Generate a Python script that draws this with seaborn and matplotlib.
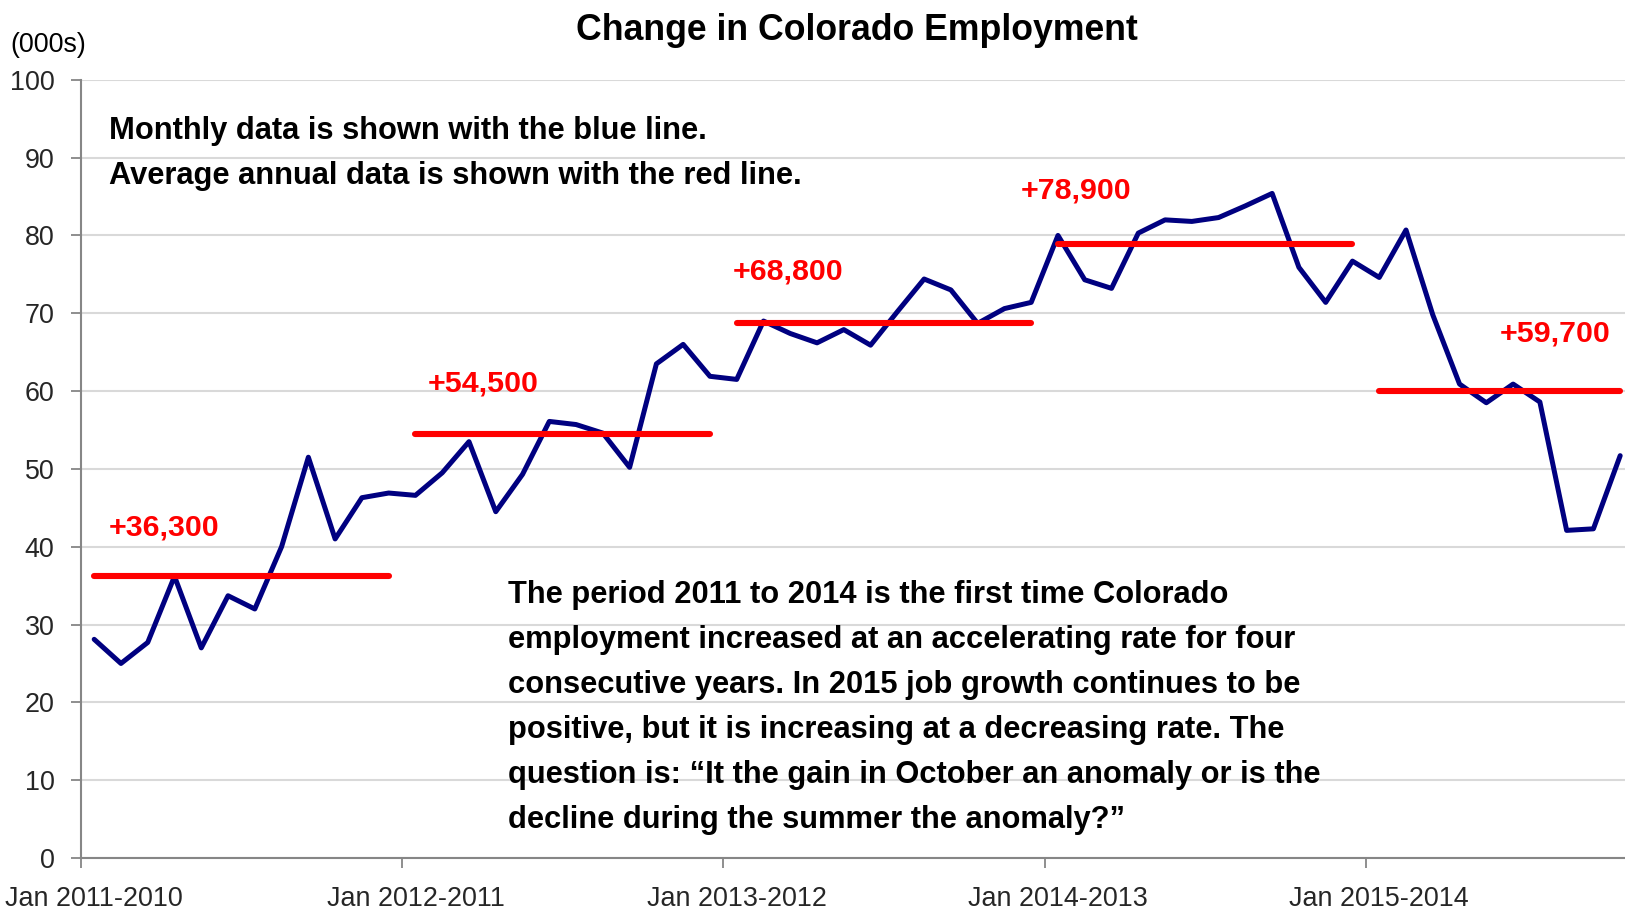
import numpy as np
import pandas as pd
import matplotlib
matplotlib.use("Agg")
import matplotlib.pyplot as plt
import seaborn as sns
from matplotlib import font_manager

# ---------------- data ----------------
year_labels = ["Jan 2011-2010", "Jan 2012-2011", "Jan 2013-2012", "Jan 2014-2013", "Jan 2015-2014"]
monthly_change = [
    28.1, 25.0, 27.7, 36.2, 27.0, 33.7, 32.0, 40.0, 51.5, 41.0, 46.3, 46.9,   # 2011
    46.6, 49.5, 53.5, 44.5, 49.3, 56.1, 55.7, 54.6, 50.2, 63.5, 66.0, 61.9,   # 2012
    61.5, 69.0, 67.4, 66.2, 67.9, 65.9, 70.2, 74.4, 73.0, 68.7, 70.6, 71.4,   # 2013
    80.0, 74.3, 73.2, 80.3, 82.0, 81.8, 82.3, 83.8, 85.4, 75.9, 71.4, 76.7,   # 2014
    74.6, 80.7, 69.8, 60.9, 58.5, 60.9, 58.6, 42.1, 42.3, 51.7,               # 2015 (Jan-Oct)
]
annual_avg = [36.3, 54.5, 68.8, 78.9, 60.0]
annual_labels = ["+36,300", "+54,500", "+68,800", "+78,900", "+59,700"]
annual_start = [0, 12, 24, 36, 48]
annual_end = [11, 23, 35, 47, 57]

note_top = ["Monthly data is shown with the blue line.",
            "Average annual data is shown with the red line."]
note_bottom = ["The period 2011 to 2014 is the first time Colorado",
               "employment increased at an accelerating rate for four",
               "consecutive years. In 2015 job growth continues to be",
               "positive, but it is increasing at a decreasing rate. The",
               "question is: \u201cIt the gain in October an anomaly or is the",
               "decline during the summer the anomaly?\u201d"]

df = pd.DataFrame({"month": np.arange(len(monthly_change)), "change": monthly_change})

# ---------------- style ----------------
sns.set_theme(style="white")
names = {f.name for f in font_manager.fontManager.ttflist}
if "Liberation Sans Narrow" in names:
    FAM = ["Liberation Sans Narrow", "DejaVu Sans"]
    S = 1.0
else:
    FAM = ["Liberation Sans", "DejaVu Sans"]
    S = 0.84
plt.rcParams["font.family"] = FAM

W, H = 1625, 913
fig = plt.figure(figsize=(W / 100, H / 100), dpi=100)
left_px, bottom_px, top_px = 80.8, 858.0, 79.8
ax = fig.add_axes([left_px / W, 1 - bottom_px / H, 1 - left_px / W, (bottom_px - top_px) / H])

sns.lineplot(data=df, x="month", y="change", ax=ax, color="#000080", linewidth=3.6, zorder=3)

for v, s, e in zip(annual_avg, annual_start, annual_end):
    ax.hlines(v, s, e, color="#FF0000", linewidth=4.4, zorder=4, capstyle="round")

label_pos = [(0.55, 42.5), (12.45, 61.0), (23.85, 75.4), (34.6, 85.8), (52.5, 67.4)]
for (lx, ly), lab in zip(label_pos, annual_labels):
    ax.text(lx, ly, lab, color="#FF0000", fontsize=26 * S, fontweight="bold",
            ha="left", va="center", zorder=5)

ax.set_xlim(-0.5, 57.18)
ax.set_ylim(0, 100)
ax.set_yticks(range(0, 101, 10))
# labels centred on the January category, tick marks between categories
ax.set_xticks([12 * i for i in range(len(year_labels))])
ax.set_xticklabels(year_labels)
ax.set_xticks([-0.5 + 12 * i for i in range(len(year_labels))], minor=True)
ax.set_xlabel("")
ax.set_ylabel("")
ax.yaxis.grid(True, color="#D9D9D9", linewidth=1.5)
ax.xaxis.grid(False, which="both")
ax.set_axisbelow(True)
for sp in ["top", "right"]:
    ax.spines[sp].set_visible(False)
for sp in ["left", "bottom"]:
    ax.spines[sp].set_color("#868686")
    ax.spines[sp].set_linewidth(1.5)
ax.tick_params(axis="y", direction="out", length=7, width=1.3, color="#868686",
               labelsize=23 * S, pad=12, left=True)
ax.tick_params(axis="x", which="major", direction="out", length=0,
               labelsize=23 * S, pad=20, bottom=True)
ax.tick_params(axis="x", which="minor", direction="out", length=7, width=1.3, color="#868686",
               bottom=True, labelbottom=False)

# ---------------- texts ----------------
fig.text(857 / W, 1 - 40 / H, "Change in Colorado Employment", ha="center", va="baseline",
         fontsize=30.5 * S, fontweight="bold", color="black")
fig.text(10.5 / W, 1 - 52 / H, "(000s)", ha="left", va="baseline", fontsize=23 * S, color="black")

for i, line in enumerate(note_top):
    fig.text(108.8 / W, 1 - (139 + i * 44.9) / H, line, ha="left", va="baseline",
             fontsize=26.5 * S, fontweight="bold", color="black")
for i, line in enumerate(note_bottom):
    fig.text(508 / W, 1 - (603.5 + i * 44.9) / H, line, ha="left", va="baseline",
             fontsize=26.5 * S, fontweight="bold", color="black")

fig.savefig("out.png", dpi=100)
